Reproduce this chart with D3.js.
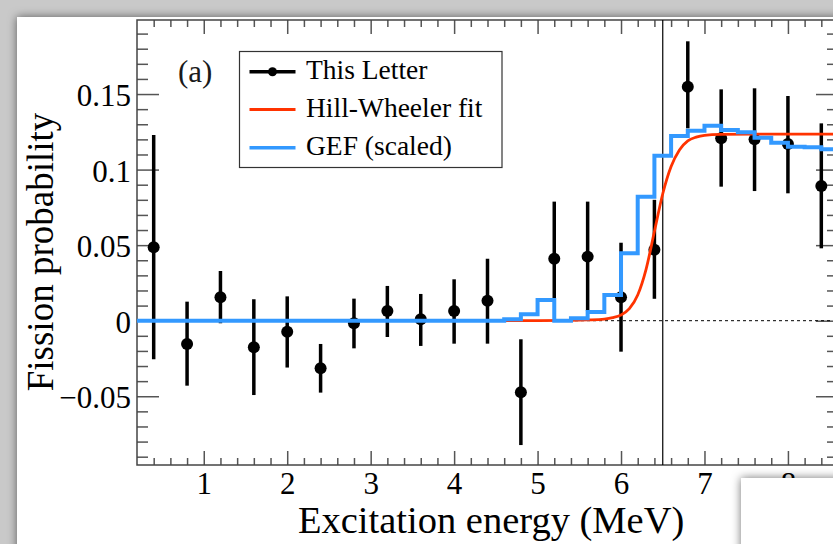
<!DOCTYPE html>
<html><head><meta charset="utf-8">
<script src="https://cdn.jsdelivr.net/npm/d3@7"></script>
<style>html,body{margin:0;padding:0;background:#c9c9c9;overflow:hidden}</style>
</head><body>
<svg id="chart" width="833" height="544"></svg>
<script>
// ---- data ----
const energies = [0.4, 0.8, 1.2, 1.6, 2.0, 2.4, 2.8, 3.2, 3.6, 4.0, 4.4, 4.8, 5.2, 5.6, 6.0, 6.4, 6.8, 7.2, 7.6, 8.0, 8.4];
const fissionProb = [0.0486, -0.0154, 0.0155, -0.0176, -0.0073, -0.0315, -0.0017, 0.0064, 0.0009, 0.0064, 0.0132, -0.0474, 0.041, 0.0424, 0.0155, 0.047, 0.1549, 0.1207, 0.120, 0.117, 0.0891];
const errUp   = [0.0743, 0.028, 0.0174, 0.0318, 0.0234, 0.0161, 0.0163, 0.0166, 0.0168, 0.021, 0.0278, 0.0351, 0.0378, 0.0364, 0.0361, 0.033, 0.030, 0.0324, 0.0338, 0.0317, 0.0415];
const errDown = [0.0741, 0.0276, 0.0172, 0.0316, 0.0237, 0.0161, 0.0166, 0.0172, 0.0176, 0.0216, 0.0284, 0.0349, 0.0262, 0.036, 0.036, 0.0325, 0.0276, 0.032, 0.0342, 0.0327, 0.0412];

const gefEdges  = [0.2, 4.6, 4.8, 5.0, 5.2, 5.4, 5.6, 5.8, 6.0, 6.2, 6.4, 6.6, 6.8, 7.0, 7.2, 7.4, 7.6, 7.8, 8.0, 8.2, 8.4, 8.6];
const gefValues = [0, 0.001, 0.0042, 0.0137, 0, 0.0016, 0.0058, 0.017, 0.0446, 0.082, 0.1092, 0.1222, 0.1257, 0.129, 0.1262, 0.1247, 0.1211, 0.1178, 0.1152, 0.1148, 0.1135];

const fitE    = [4.6, 5.0, 5.4, 5.6, 5.8, 5.9, 6.0, 6.1, 6.2, 6.3, 6.4, 6.5, 6.6, 6.7, 6.8, 6.9, 7.0, 7.2, 7.6, 8.6];
const fitProb = [0.0, 0.0, 0.0002, 0.0005, 0.0011, 0.002, 0.0038, 0.008, 0.017, 0.034, 0.059, 0.084, 0.102, 0.113, 0.119, 0.1215, 0.1227, 0.1233, 0.1235, 0.1235];

const xTickValues = [1, 2, 3, 4, 5, 6, 7, 8];
const yTickValues = [-0.05, 0, 0.05, 0.1, 0.15];
const legendLabels = ["This Letter", "Hill-Wheeler fit", "GEF (scaled)"];
const xTitle = "Excitation energy (MeV)";
const yTitle = "Fission probability";
const panelLabel = "(a)";
const markerLine = 6.5;

// ---- layout ----
const L = 137, R = 838, T = 20, B = 465;
const serif = "'Liberation Serif','Times New Roman',Times,serif";
const blue = "#3399ff", red = "#ff3300";

const svg = d3.select("#chart");
const defs = svg.append("defs");
const f = defs.append("filter").attr("id", "shadow").attr("x", "-20%").attr("y", "-20%").attr("width", "140%").attr("height", "140%");
f.append("feDropShadow").attr("dx", 0).attr("dy", 0).attr("stdDeviation", 5).attr("flood-color", "#000").attr("flood-opacity", 0.55);
defs.append("clipPath").attr("id", "plotclip").append("rect").attr("x", L).attr("y", T).attr("width", R - L).attr("height", B - T);

svg.append("rect").attr("x", 0).attr("y", 0).attr("width", 833).attr("height", 544).attr("fill", "#c9c9c9");
svg.append("rect").attr("x", 17).attr("y", 17).attr("width", 1000).attr("height", 700).attr("fill", "#fff").attr("filter", "url(#shadow)");

const x = d3.scaleLinear().domain([0.2, 8.6]).range([L, R]);
const y = d3.scaleLinear().domain([-0.0955, 0.199]).range([B, T]);

const fmtY = d => d === 0 ? "0" : (d < 0 ? "\u2212" + Math.abs(d) : String(d));

const tickColor = "#555";
const xMinor = d3.range(2, 43).map(i => +(i * 0.2).toFixed(1)).filter(v => v > 0.2 && v < 8.6 && Math.abs(v - Math.round(v)) > 1e-6);
const yMinor = d3.range(-9, 20).map(i => +(i * 0.01).toFixed(2)).filter(v => Math.abs(v * 20 - Math.round(v * 20)) > 1e-6);

function styleAxis(g) {
  g.select(".domain").remove();
  g.selectAll("line").attr("stroke", tickColor).attr("stroke-width", 1.5);
}

// bottom
svg.append("g").attr("transform", `translate(0,${B})`)
  .call(d3.axisBottom(x).tickValues(xMinor).tickSize(-7).tickFormat(""))
  .call(styleAxis);
svg.append("g").attr("transform", `translate(0,${B})`)
  .call(d3.axisBottom(x).tickValues(xTickValues).tickSize(-14).tickPadding(7).tickFormat(d3.format("d")))
  .call(styleAxis)
  .call(g => g.selectAll("text").attr("font-family", serif).attr("font-size", 31).attr("fill", "#000"));
// top
svg.append("g").attr("transform", `translate(0,${T})`)
  .call(d3.axisTop(x).tickValues(xMinor).tickSize(-7).tickFormat("")).call(styleAxis);
svg.append("g").attr("transform", `translate(0,${T})`)
  .call(d3.axisTop(x).tickValues(xTickValues).tickSize(-14).tickFormat("")).call(styleAxis);
// left
svg.append("g").attr("transform", `translate(${L},0)`)
  .call(d3.axisLeft(y).tickValues(yMinor).tickSize(-11).tickFormat("")).call(styleAxis);
svg.append("g").attr("transform", `translate(${L},0)`)
  .call(d3.axisLeft(y).tickValues(yTickValues).tickSize(-22).tickPadding(6).tickFormat(fmtY))
  .call(styleAxis)
  .call(g => g.selectAll("text").attr("font-family", serif).attr("font-size", 31).attr("fill", "#000").attr("dy", "0.37em"));
// right
svg.append("g").attr("transform", `translate(${R},0)`)
  .call(d3.axisRight(y).tickValues(yMinor).tickSize(-11).tickFormat("")).call(styleAxis);
svg.append("g").attr("transform", `translate(${R},0)`)
  .call(d3.axisRight(y).tickValues(yTickValues).tickSize(-22).tickFormat("")).call(styleAxis);

// frame
svg.append("rect").attr("x", L).attr("y", T).attr("width", R - L).attr("height", B - T)
  .attr("fill", "none").attr("stroke", "#444").attr("stroke-width", 1.5);

const plot = svg.append("g").attr("clip-path", "url(#plotclip)");

// zero dotted line
plot.append("line").attr("x1", x(0.2)).attr("x2", x(8.6)).attr("y1", y(0)).attr("y2", y(0))
  .attr("stroke", "#000").attr("stroke-width", 1).attr("stroke-dasharray", "3,3");
// vertical marker line
plot.append("line").attr("x1", x(markerLine)).attr("x2", x(markerLine)).attr("y1", T).attr("y2", B)
  .attr("stroke", "#000").attr("stroke-width", 1.2);

// data with error bars
const pts = energies.map((e, i) => ({e, p: fissionProb[i], up: errUp[i], dn: errDown[i]}));
plot.selectAll(".err").data(pts).join("line")
  .attr("x1", d => x(d.e)).attr("x2", d => x(d.e))
  .attr("y1", d => y(d.p + d.up)).attr("y2", d => y(d.p - d.dn))
  .attr("stroke", "#000").attr("stroke-width", 3.5);
plot.selectAll(".pt").data(pts).join("circle")
  .attr("cx", d => x(d.e)).attr("cy", d => y(d.p)).attr("r", 6).attr("fill", "#000");

// Hill-Wheeler fit
const fitPts = fitE.map((e, i) => [e, fitProb[i]]);
plot.append("path").datum(fitPts)
  .attr("d", d3.line().x(d => x(d[0])).y(d => y(d[1])).curve(d3.curveMonotoneX))
  .attr("fill", "none").attr("stroke", red).attr("stroke-width", 2.8);

// GEF histogram
const gefPts = [];
gefValues.forEach((v, i) => { gefPts.push([gefEdges[i], v]); gefPts.push([gefEdges[i + 1], v]); });
plot.append("path").datum(gefPts)
  .attr("d", d3.line().x(d => x(d[0])).y(d => y(d[1])))
  .attr("fill", "none").attr("stroke", blue).attr("stroke-width", 4).attr("stroke-linejoin", "miter");

// panel label
svg.append("text").attr("x", 178).attr("y", 81.5).attr("font-family", serif).attr("font-size", 31)
  .attr("fill", "#1a1a1a").text(panelLabel);

// legend
const lg = svg.append("g");
lg.append("rect").attr("x", 239.5).attr("y", 51.5).attr("width", 262.5).attr("height", 116)
  .attr("fill", "#fff").attr("stroke", "#333").attr("stroke-width", 1.2);
const rowsY = [71.7, 109.5, 147.8];
const legColors = ["#000", red, blue];
const legWidths = [3.5, 2.8, 3.5];
legendLabels.forEach((lab, i) => {
  lg.append("line").attr("x1", 249.5).attr("x2", 295.5).attr("y1", rowsY[i]).attr("y2", rowsY[i])
    .attr("stroke", legColors[i]).attr("stroke-width", legWidths[i]);
  if (i === 0) lg.append("circle").attr("cx", 272.5).attr("cy", rowsY[i]).attr("r", 4.5).attr("fill", "#000");
  lg.append("text").attr("x", 306).attr("y", rowsY[i] + 7.5).attr("font-family", serif).attr("font-size", 27.5)
    .attr("fill", "#000").text(lab);
});

// axis titles
svg.append("text").attr("x", 298).attr("y", 533).attr("font-family", serif).attr("font-size", 38.5)
  .attr("fill", "#000").text(xTitle);
svg.append("text").attr("transform", "translate(53,252) rotate(-90)").attr("text-anchor", "middle")
  .attr("font-family", serif).attr("font-size", 37).attr("fill", "#000").text(yTitle);

// overlapping window at bottom right
svg.append("rect").attr("x", 741).attr("y", 478).attr("width", 200).attr("height", 120)
  .attr("fill", "#fff").attr("filter", "url(#shadow)");
</script>
</body></html>
